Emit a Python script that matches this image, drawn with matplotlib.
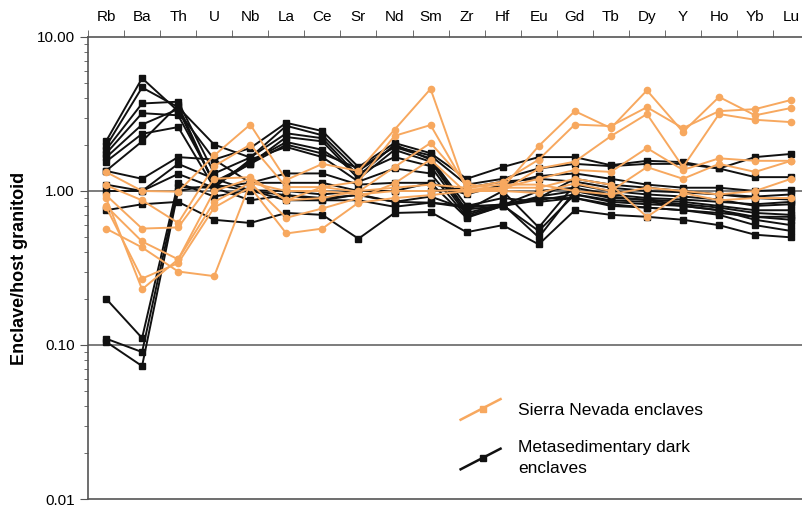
import matplotlib
matplotlib.use('Agg')
import matplotlib.pyplot as plt
from matplotlib.lines import Line2D
from matplotlib.legend_handler import HandlerBase
import numpy as np

plt.rcParams['font.family'] = ['Liberation Sans', 'DejaVu Sans']

elements = ['Rb', 'Ba', 'Th', 'U', 'Nb', 'La', 'Ce', 'Sr', 'Nd', 'Sm',
            'Zr', 'Hf', 'Eu', 'Gd', 'Tb', 'Dy', 'Y', 'Ho', 'Yb', 'Lu']

# Sierra Nevada enclaves (enclave / host ratios)
sn_1 = [1.33, 1.00, 0.99, 1.70, 2.70, 1.18, 1.50, 1.35, 2.50, 4.60, 1.00, 1.05, 1.96, 3.30, 2.56, 4.50, 2.42, 4.08, 3.10, 3.46]
sn_2 = [1.09, 0.87, 0.62, 1.45, 2.00, 1.06, 1.06, 1.15, 2.28, 2.68, 1.05, 1.15, 1.60, 2.70, 2.64, 3.50, 2.56, 3.30, 3.40, 3.90]
sn_3 = [0.94, 0.57, 0.58, 1.20, 1.23, 0.87, 1.06, 0.99, 1.43, 2.05, 1.12, 1.00, 1.40, 1.55, 2.27, 3.16, 1.43, 3.16, 2.90, 2.80]
sn_4 = [0.80, 0.47, 0.36, 0.85, 1.13, 0.67, 0.77, 0.90, 1.12, 1.60, 0.97, 1.05, 1.20, 1.37, 1.33, 1.90, 1.37, 1.63, 1.57, 1.57]
sn_5 = [0.79, 0.27, 0.34, 0.78, 1.06, 0.53, 0.57, 0.84, 0.90, 0.94, 1.00, 1.00, 0.97, 1.12, 1.00, 1.43, 1.20, 1.50, 1.33, 1.57]
sn_6 = [0.57, 0.43, 0.30, 0.28, 1.13, 1.00, 1.00, 0.95, 1.00, 1.00, 1.02, 1.05, 1.05, 1.20, 1.10, 0.68, 0.97, 0.87, 0.90, 0.90]
sn_7 = [0.90, 0.23, 0.36, 1.00, 1.20, 0.87, 0.90, 1.00, 1.05, 1.10, 1.05, 1.10, 1.10, 1.00, 0.95, 1.05, 1.00, 0.95, 1.00, 1.20]
sierra = [sn_1, sn_2, sn_3, sn_4, sn_5, sn_6, sn_7]

# Metasedimentary dark enclaves
md_1 = [2.10, 5.40, 3.30, 1.60, 1.90, 2.77, 2.45, 1.43, 2.05, 1.76, 1.20, 1.43, 1.66, 1.66, 1.47, 1.57, 1.54, 1.40, 1.66, 1.74]
md_2 = [1.95, 4.70, 3.50, 2.00, 1.65, 2.65, 2.30, 1.35, 1.95, 1.70, 1.10, 1.20, 1.40, 1.50, 1.45, 1.50, 1.50, 1.40, 1.23, 1.23]
md_3 = [1.85, 3.70, 3.80, 1.30, 1.65, 2.37, 2.20, 1.25, 2.00, 1.60, 0.75, 1.00, 0.58, 1.10, 1.00, 0.95, 0.92, 0.88, 0.80, 0.82]
md_4 = [1.75, 3.20, 3.10, 1.15, 1.50, 2.24, 2.10, 1.20, 1.85, 1.55, 0.72, 0.82, 0.50, 1.00, 0.90, 0.88, 0.85, 0.80, 0.75, 0.75]
md_5 = [1.65, 2.70, 3.40, 1.10, 1.55, 2.08, 1.85, 1.30, 1.66, 1.45, 0.70, 0.81, 0.55, 0.95, 0.85, 0.82, 0.80, 0.75, 0.68, 0.68]
md_6 = [1.55, 2.35, 2.60, 1.05, 1.60, 1.93, 1.66, 1.15, 1.40, 1.30, 0.68, 0.80, 0.90, 1.20, 1.10, 1.05, 1.00, 0.95, 0.90, 0.88]
md_7 = [1.35, 2.10, 3.60, 1.10, 1.50, 2.00, 1.75, 1.40, 1.93, 1.63, 0.80, 0.90, 0.85, 0.90, 0.80, 0.78, 0.75, 0.70, 0.60, 0.55]
md_8 = [1.35, 1.20, 1.66, 1.60, 1.13, 1.30, 1.30, 1.10, 1.13, 1.13, 0.95, 1.10, 1.25, 1.30, 1.20, 1.10, 1.05, 1.05, 1.00, 1.02]
md_9 = [1.10, 1.00, 1.50, 1.20, 1.01, 1.00, 0.95, 1.00, 1.00, 1.00, 1.05, 1.15, 1.20, 1.15, 1.05, 1.00, 0.98, 0.95, 0.92, 0.95]
md_10 = [1.00, 1.00, 1.29, 1.05, 0.87, 0.94, 0.90, 0.94, 0.85, 0.84, 0.80, 0.81, 1.00, 1.05, 0.95, 0.90, 0.88, 0.85, 0.82, 0.85]
md_11 = [0.75, 0.82, 0.85, 0.65, 0.62, 0.72, 0.70, 0.49, 0.72, 0.73, 0.54, 0.60, 0.45, 0.75, 0.70, 0.68, 0.65, 0.60, 0.52, 0.50]
md_12 = [0.20, 0.111, 1.13, 0.92, 1.01, 0.87, 0.87, 0.87, 0.79, 0.84, 0.78, 0.82, 0.90, 0.90, 0.82, 0.78, 0.75, 0.72, 0.68, 0.65]
md_13 = [0.11, 0.090, 1.06, 1.05, 1.13, 1.13, 1.13, 1.00, 1.00, 1.13, 0.67, 0.80, 0.92, 1.00, 0.92, 0.87, 0.82, 0.78, 0.72, 0.70]
md_14 = [0.105, 0.073, 1.00, 1.10, 1.00, 0.94, 0.87, 0.95, 0.85, 0.92, 0.76, 0.80, 0.87, 0.95, 0.87, 0.85, 0.80, 0.75, 0.65, 0.60]
metased = [md_1, md_2, md_3, md_4, md_5, md_6, md_7, md_8, md_9, md_10, md_11, md_12, md_13, md_14]

orange = '#F7A85F'
x = np.arange(len(elements))

fig = plt.figure(figsize=(8.02, 5.08), dpi=100)
ax = fig.add_axes([0.1097, 0.0177, 0.8903, 0.9095])

ax.axhline(1.0, color='#666666', lw=1.2, zorder=0)
ax.axhline(0.1, color='#666666', lw=1.2, zorder=0)

for s in metased:
    ax.plot(x, s, color='#111111', lw=1.4, marker='s', ms=5, zorder=2)
for s in sierra:
    ax.plot(x, s, color=orange, lw=1.4, marker='o', ms=4.5, zorder=3)

ax.set_yscale('log')
ax.set_ylim(0.01, 10)
ax.set_xlim(-0.5, 19.3)
ax.set_yticks([0.01, 0.1, 1, 10])
ax.set_yticklabels(['0.01', '0.10', '1.00', '10.00'], fontsize=11)
ax.tick_params(axis='y', which='major', direction='out', length=6, color='#555555')
ax.tick_params(axis='y', which='minor', direction='out', length=3, color='#555555')

ax.xaxis.tick_top()
ax.set_xticks(x)
ax.set_xticklabels(elements, fontsize=11)
ax.set_xticks(np.arange(-0.5, 19.5, 1), minor=True)
ax.tick_params(axis='x', which='major', length=0, pad=9)
ax.tick_params(axis='x', which='minor', direction='out', length=5, color='#555555')

for side in ['top', 'left', 'bottom']:
    ax.spines[side].set_color('#555555')
    ax.spines[side].set_linewidth(1.2)
ax.spines['right'].set_visible(False)

ax.set_ylabel('Enclave/host granitoid', fontsize=13, fontweight='bold', labelpad=6)


class DiagHandler(HandlerBase):
    def create_artists(self, legend, orig_handle, xdescent, ydescent,
                       width, height, fontsize, trans):
        line = Line2D([xdescent, xdescent + width], [-height * 0.4, height * 1.3],
                      color=orig_handle.get_color(), lw=1.8, transform=trans)
        mk = Line2D([xdescent + width * 0.55], [height * 0.5],
                    marker=orig_handle.get_marker(), color=orig_handle.get_color(),
                    ms=5, lw=0, transform=trans)
        return [line, mk]


h1 = Line2D([], [], color=orange, marker='s')
h2 = Line2D([], [], color='#111111', marker='s')
leg = ax.legend([h1, h2], ['Sierra Nevada enclaves', 'Metasedimentary dark\nenclaves'],
                handler_map={Line2D: DiagHandler()}, loc='lower left',
                bbox_to_anchor=(0.5, 0.015), frameon=False, fontsize=12.5,
                handlelength=2.3, labelspacing=1.3, handletextpad=1.0)
for t in leg.get_texts():
    t.set_linespacing(1.5)

fig.savefig('out.png', dpi=100)
